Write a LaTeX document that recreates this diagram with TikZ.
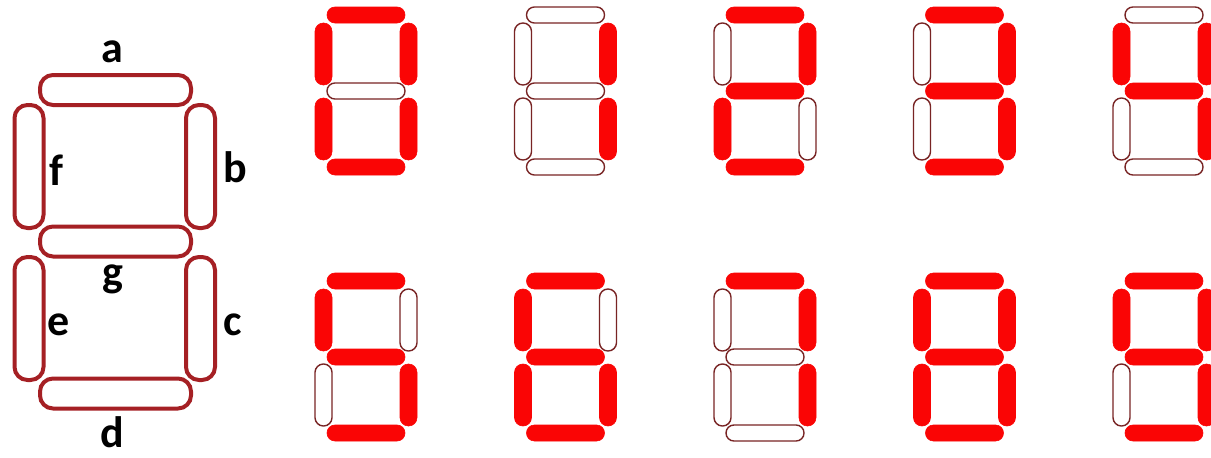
\documentclass[tikz,border=0pt]{standalone}
\usepackage{fontspec}
\setmainfont{Carlito}
\definecolor{segred}{RGB}{250,5,5}
\definecolor{offred}{RGB}{120,36,36}
\definecolor{labred}{RGB}{165,32,36}
\tikzset{
  hseg/.style={minimum width=78pt,minimum height=16pt,inner sep=0pt,outer sep=0pt,rounded corners=7.9pt},
  vseg/.style={minimum width=17pt,minimum height=62pt,inner sep=0pt,outer sep=0pt,rounded corners=8.4pt},
  s1/.style={fill=segred,draw=segred,line width=0.6pt},
  s0/.style={draw=offred,line width=1.4pt,fill=white},
  lh/.style={draw=labred,line width=4pt,minimum width=151pt,minimum height=30pt,inner sep=0pt,rounded corners=13pt},
  lv/.style={draw=labred,line width=4pt,minimum width=29pt,minimum height=123pt,inner sep=0pt,rounded corners=13pt},
  lab/.style={font=\fontsize{44}{44}\selectfont\bfseries,inner sep=0pt,text=black}
}
\def\sevdigit#1#2#3#4#5#6#7#8#9{%
  \begin{scope}[shift={#2}]
    \node[hseg,s#3] (#1a) at (51,8) {};
    \node[vseg,s#4] (#1b) at (93.5,47) {};
    \node[vseg,s#5] (#1c) at (93.5,122) {};
    \node[hseg,s#6] (#1d) at (51,160) {};
    \node[vseg,s#7] (#1e) at (8.5,122) {};
    \node[vseg,s#8] (#1f) at (8.5,47) {};
    \node[hseg,s#9] (#1g) at (51,84) {};
  \end{scope}}
\begin{document}
\begin{tikzpicture}[x=1pt,y=-1pt]
\useasboundingbox[fill=white] (0,0) rectangle (1211,458);
% labelled display
\node[lh] (sa) at (115.5,90) {};
\node[lv] (sf) at (29,166.5) {};
\node[lv] (sb) at (200.5,166.5) {};
\node[lh] (sg) at (115.5,241.5) {};
\node[lv] (se) at (29,318.5) {};
\node[lv] (sc) at (200.5,318.5) {};
\node[lh] (sd) at (115.5,393.5) {};
\node[lab] (la) at (112.5,52) {a};
\node[lab] (lb) at (235,167) {b};
\node[lab] (lc) at (232.5,325) {c};
\node[lab] (ld) at (112.5,432) {d};
\node[lab] (le) at (58.5,325) {e};
\node[lab] (lf) at (56.5,170) {f};
\node[lab] (lg) at (113,279) {g};
% digits: flags a b c d e f g
\sevdigit{dzero}{(315,7)}{1}{1}{1}{1}{1}{1}{0}
\sevdigit{done}{(514.5,7)}{0}{1}{1}{0}{0}{0}{0}
\sevdigit{dtwo}{(714,7)}{1}{1}{0}{1}{1}{0}{1}
\sevdigit{dthree}{(913.5,7)}{1}{1}{1}{1}{0}{0}{1}
\sevdigit{dfour}{(1113,7)}{0}{1}{1}{0}{0}{1}{1}
\sevdigit{dfive}{(315,273)}{1}{0}{1}{1}{0}{1}{1}
\sevdigit{dsix}{(514.5,273)}{1}{0}{1}{1}{1}{1}{1}
\sevdigit{dseven}{(714,273)}{1}{1}{1}{0}{0}{0}{0}
\sevdigit{deight}{(913.5,273)}{1}{1}{1}{1}{1}{1}{1}
\sevdigit{dnine}{(1113,273)}{1}{1}{1}{1}{0}{1}{1}
\end{tikzpicture}
\end{document}
